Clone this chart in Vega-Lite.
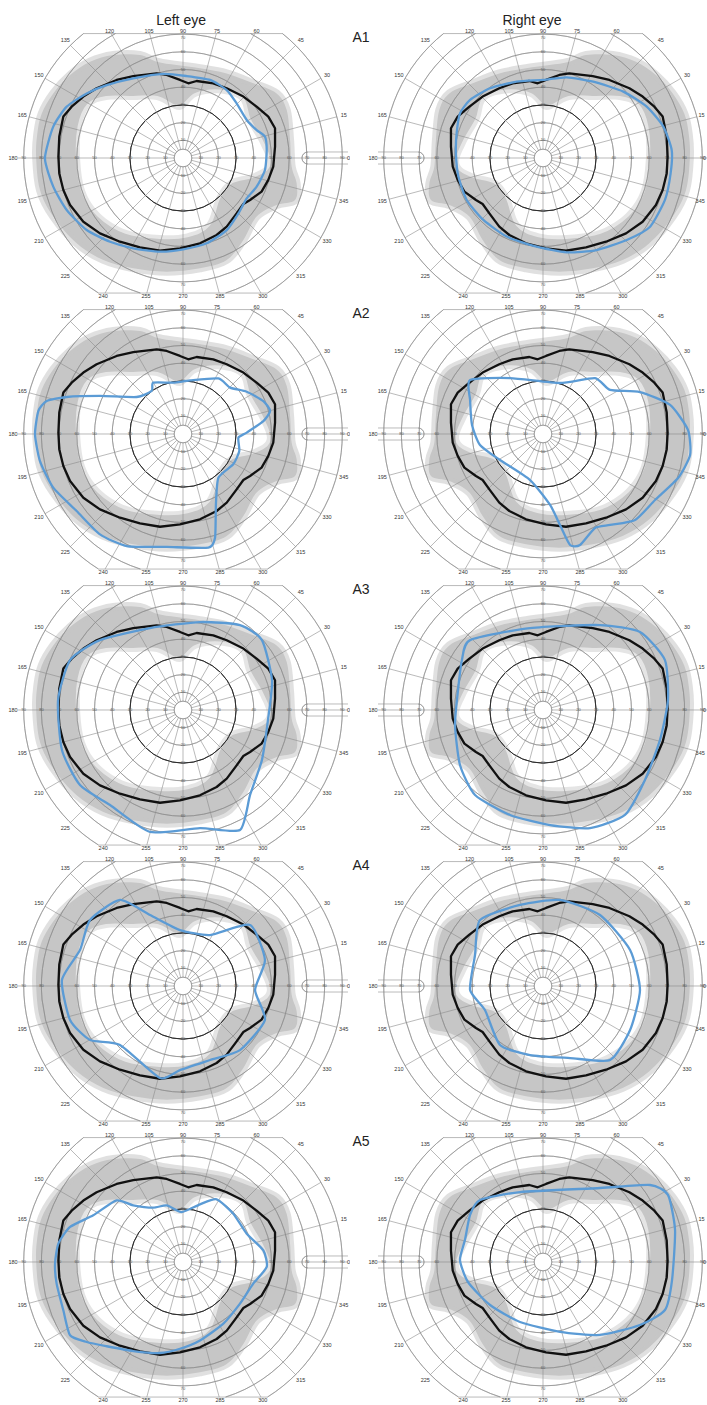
{
"$schema": "https://vega.github.io/schema/vega-lite/v6.json",
"padding": 0,
"background": "white",
"spacing": 0,
"config": {"view": {"stroke": null}, "concat": {"spacing": 0}},
"datasets": {
"circ": [
{"e":"B","x":0,"y":0,"r":5,"t1":0,"t2":360,"w":"n"},
{"e":"B","x":0,"y":0,"r":10,"t1":0,"t2":360,"w":"n"},
{"e":"B","x":0,"y":0,"r":20,"t1":0,"t2":360,"w":"n"},
{"e":"B","x":0,"y":0,"r":30,"t1":0,"t2":360,"w":"d"},
{"e":"B","x":0,"y":0,"r":40,"t1":0,"t2":360,"w":"n"},
{"e":"B","x":0,"y":0,"r":50,"t1":0,"t2":360,"w":"n"},
{"e":"B","x":0,"y":0,"r":60,"t1":0,"t2":360,"w":"n"},
{"e":"B","x":0,"y":0,"r":70,"t1":0,"t2":360,"w":"n"},
{"e":"B","x":0,"y":0,"r":80,"t1":28.5,"t2":162.5,"w":"n"},
{"e":"B","x":0,"y":0,"r":80,"t1":197.5,"t2":331.5,"w":"n"},
{"e":"B","x":0,"y":0,"r":90,"t1":38.6,"t2":148,"w":"n"},
{"e":"B","x":0,"y":0,"r":90,"t1":212,"t2":321.4,"w":"n"},
{"e":"L","x":70.6,"y":0,"r":3.4,"t1":180,"t2":360,"w":"n"},
{"e":"R","x":-70.6,"y":0,"r":3.4,"t1":0,"t2":180,"w":"n"}
],
"spk": [
{"e":"B","x":5,"y":0,"x2":93.2,"y2":0},
{"e":"B","x":4.83,"y":1.29,"x2":86.93,"y2":23.29},
{"e":"B","x":4.33,"y":2.5,"x2":77.94,"y2":45},
{"e":"B","x":3.54,"y":3.54,"x2":63.64,"y2":63.64},
{"e":"B","x":2.5,"y":4.33,"x2":40.59,"y2":70.3},
{"e":"B","x":1.29,"y":4.83,"x2":18.84,"y2":70.3},
{"e":"B","x":0,"y":5,"x2":0,"y2":70.3},
{"e":"B","x":-1.29,"y":4.83,"x2":-18.84,"y2":70.3},
{"e":"B","x":-2.5,"y":4.33,"x2":-40.59,"y2":70.3},
{"e":"B","x":-3.54,"y":3.54,"x2":-63.64,"y2":63.64},
{"e":"B","x":-4.33,"y":2.5,"x2":-77.94,"y2":45},
{"e":"B","x":-4.83,"y":1.29,"x2":-86.93,"y2":23.29},
{"e":"B","x":-5,"y":0,"x2":-93.2,"y2":0},
{"e":"B","x":-4.83,"y":-1.29,"x2":-86.93,"y2":-23.29},
{"e":"B","x":-4.33,"y":-2.5,"x2":-77.94,"y2":-45},
{"e":"B","x":-3.54,"y":-3.54,"x2":-63.64,"y2":-63.64},
{"e":"B","x":-2.5,"y":-4.33,"x2":-44.05,"y2":-76.3},
{"e":"B","x":-1.29,"y":-4.83,"x2":-20.44,"y2":-76.3},
{"e":"B","x":0,"y":-5,"x2":0,"y2":-76.3},
{"e":"B","x":1.29,"y":-4.83,"x2":20.44,"y2":-76.3},
{"e":"B","x":2.5,"y":-4.33,"x2":44.05,"y2":-76.3},
{"e":"B","x":3.54,"y":-3.54,"x2":63.64,"y2":-63.64},
{"e":"B","x":4.33,"y":-2.5,"x2":77.94,"y2":-45},
{"e":"B","x":4.83,"y":-1.29,"x2":86.93,"y2":-23.29},
{"e":"B","x":-56.2,"y":70.3,"x2":56.2,"y2":70.3},
{"e":"B","x":-47.7,"y":-76.3,"x2":47.7,"y2":-76.3},
{"e":"L","x":70.6,"y":3.4,"x2":93.2,"y2":3.4},
{"e":"L","x":70.6,"y":-3.4,"x2":93.2,"y2":-3.4},
{"e":"R","x":-93.2,"y":3.4,"x2":-70.6,"y2":3.4},
{"e":"R","x":-93.2,"y":-3.4,"x2":-70.6,"y2":-3.4}
],
"tl": [
{"x":10,"y":0,"t":"10"},{"x":20,"y":0,"t":"20"},{"x":30,"y":0,"t":"30"},{"x":40,"y":0,"t":"40"},{"x":50,"y":0,"t":"50"},{"x":60,"y":0,"t":"60"},{"x":70,"y":0,"t":"70"},{"x":80,"y":0,"t":"80"},{"x":90,"y":0,"t":"90"},
{"x":-10,"y":0,"t":"10"},{"x":-20,"y":0,"t":"20"},{"x":-30,"y":0,"t":"30"},{"x":-40,"y":0,"t":"40"},{"x":-50,"y":0,"t":"50"},{"x":-60,"y":0,"t":"60"},{"x":-70,"y":0,"t":"70"},{"x":-80,"y":0,"t":"80"},{"x":-90,"y":0,"t":"90"},
{"x":0,"y":10,"t":"10"},{"x":0,"y":20,"t":"20"},{"x":0,"y":30,"t":"30"},{"x":0,"y":40,"t":"40"},{"x":0,"y":50,"t":"50"},{"x":0,"y":60,"t":"60"},{"x":0,"y":68,"t":"70"},
{"x":0,"y":-10,"t":"10"},{"x":0,"y":-20,"t":"20"},{"x":0,"y":-30,"t":"30"},{"x":0,"y":-40,"t":"40"},{"x":0,"y":-50,"t":"50"},{"x":0,"y":-60,"t":"60"},{"x":0,"y":-72,"t":"70"}
],
"al": [
{"e":"L","x":93.5,"y":0,"t":"0"},{"e":"L","x":90.8,"y":24.3,"t":"15"},{"e":"L","x":90.8,"y":-24.3,"t":"345"},
{"e":"R","x":91.2,"y":0,"t":"0"},{"e":"R","x":89.6,"y":24.3,"t":"15"},{"e":"R","x":88.8,"y":-24.3,"t":"345"},
{"e":"B","x":81.4,"y":47,"t":"30"},{"e":"B","x":66.5,"y":66.5,"t":"45"},
{"e":"B","x":41.5,"y":71.8,"t":"60"},{"e":"B","x":19.2,"y":71.8,"t":"75"},{"e":"B","x":0,"y":71.8,"t":"90"},{"e":"B","x":-19.2,"y":71.8,"t":"105"},{"e":"B","x":-41.5,"y":71.8,"t":"120"},
{"e":"B","x":-66.5,"y":66.5,"t":"135"},{"e":"B","x":-81.4,"y":47,"t":"150"},{"e":"B","x":-90.8,"y":24.3,"t":"165"},{"e":"B","x":-96,"y":0,"t":"180"},
{"e":"B","x":-90.8,"y":-24.3,"t":"195"},{"e":"B","x":-81.4,"y":-47,"t":"210"},{"e":"B","x":-66.5,"y":-66.5,"t":"225"},
{"e":"B","x":-45.1,"y":-78.2,"t":"240"},{"e":"B","x":-20.9,"y":-78.2,"t":"255"},{"e":"B","x":0,"y":-78.2,"t":"270"},{"e":"B","x":20.9,"y":-78.2,"t":"285"},{"e":"B","x":45.1,"y":-78.2,"t":"300"},
{"e":"B","x":66.5,"y":-66.5,"t":"315"},{"e":"B","x":81.4,"y":-47,"t":"330"}
],
"band": [
{"e":"L","k":"o","i":1,"x":-83.0,"y":0.8},{"e":"L","k":"o","i":2,"x":-82.3,"y":13.9},{"e":"L","k":"o","i":3,"x":-79.8,"y":25.2},{"e":"L","k":"o","i":4,"x":-73.3,"y":36.5},{"e":"L","k":"o","i":5,"x":-63.8,"y":46.9},{"e":"L","k":"o","i":6,"x":-52.5,"y":54.4},{"e":"L","k":"o","i":7,"x":-39.4,"y":58.2},{"e":"L","k":"o","i":8,"x":-24.3,"y":58.2},{"e":"L","k":"o","i":9,"x":-14.9,"y":54.4},{"e":"L","k":"o","i":10,"x":-3.6,"y":52.5},{"e":"L","k":"o","i":11,"x":9.6,"y":50.7},{"e":"L","k":"o","i":12,"x":24.7,"y":47.8},{"e":"L","k":"o","i":13,"x":39.7,"y":42.2},{"e":"L","k":"o","i":14,"x":52.9,"y":36.5},{"e":"L","k":"o","i":15,"x":58.6,"y":27.1},{"e":"L","k":"o","i":16,"x":60.5,"y":10.2},{"e":"L","k":"o","i":17,"x":61.4,"y":-4.9},{"e":"L","k":"o","i":18,"x":64.2,"y":-14.3},{"e":"L","k":"o","i":19,"x":63.3,"y":-23.7},{"e":"L","k":"o","i":20,"x":52.9,"y":-26.6},{"e":"L","k":"o","i":21,"x":41.6,"y":-33.1},{"e":"L","k":"o","i":22,"x":34.1,"y":-46.3},{"e":"L","k":"o","i":23,"x":24.7,"y":-57.6},{"e":"L","k":"o","i":24,"x":9.6,"y":-62.3},{"e":"L","k":"o","i":25,"x":-9.2,"y":-64.2},{"e":"L","k":"o","i":26,"x":-28.1,"y":-62.3},{"e":"L","k":"o","i":27,"x":-45.0,"y":-57.6},{"e":"L","k":"o","i":28,"x":-60.1,"y":-48.2},{"e":"L","k":"o","i":29,"x":-73.3,"y":-33.1},{"e":"L","k":"o","i":30,"x":-80.8,"y":-18.1},
{"e":"L","k":"n","i":1,"x":-58.2,"y":0.8},{"e":"L","k":"n","i":2,"x":-57.3,"y":17.7},{"e":"L","k":"n","i":3,"x":-52.5,"y":29.0},{"e":"L","k":"n","i":4,"x":-43.1,"y":32.8},{"e":"L","k":"n","i":5,"x":-28.1,"y":32.8},{"e":"L","k":"n","i":6,"x":-14.9,"y":32.8},{"e":"L","k":"n","i":7,"x":-1.7,"y":27.1},{"e":"L","k":"n","i":8,"x":7.7,"y":34.7},{"e":"L","k":"n","i":9,"x":20.9,"y":36.5},{"e":"L","k":"n","i":10,"x":32.2,"y":32.8},{"e":"L","k":"n","i":11,"x":36.0,"y":21.5},{"e":"L","k":"n","i":12,"x":43.5,"y":8.3},{"e":"L","k":"n","i":13,"x":47.3,"y":-3.0},{"e":"L","k":"n","i":14,"x":39.7,"y":-8.7},{"e":"L","k":"n","i":15,"x":26.6,"y":-12.4},{"e":"L","k":"n","i":16,"x":19.0,"y":-21.8},{"e":"L","k":"n","i":17,"x":13.4,"y":-36.9},{"e":"L","k":"n","i":18,"x":2.1,"y":-42.6},{"e":"L","k":"n","i":19,"x":-13.0,"y":-43.5},{"e":"L","k":"n","i":20,"x":-31.8,"y":-40.7},{"e":"L","k":"n","i":21,"x":-46.9,"y":-31.3},{"e":"L","k":"n","i":22,"x":-55.4,"y":-18.1},
{"e":"R","k":"o","i":1,"x":83.0,"y":0.8},{"e":"R","k":"o","i":2,"x":82.3,"y":13.9},{"e":"R","k":"o","i":3,"x":79.8,"y":25.2},{"e":"R","k":"o","i":4,"x":73.3,"y":36.5},{"e":"R","k":"o","i":5,"x":63.8,"y":46.9},{"e":"R","k":"o","i":6,"x":52.5,"y":54.4},{"e":"R","k":"o","i":7,"x":39.4,"y":58.2},{"e":"R","k":"o","i":8,"x":24.3,"y":58.2},{"e":"R","k":"o","i":9,"x":14.9,"y":54.4},{"e":"R","k":"o","i":10,"x":3.6,"y":52.5},{"e":"R","k":"o","i":11,"x":-9.6,"y":50.7},{"e":"R","k":"o","i":12,"x":-24.7,"y":47.8},{"e":"R","k":"o","i":13,"x":-39.7,"y":42.2},{"e":"R","k":"o","i":14,"x":-52.9,"y":36.5},{"e":"R","k":"o","i":15,"x":-58.6,"y":27.1},{"e":"R","k":"o","i":16,"x":-60.5,"y":10.2},{"e":"R","k":"o","i":17,"x":-61.4,"y":-4.9},{"e":"R","k":"o","i":18,"x":-64.2,"y":-14.3},{"e":"R","k":"o","i":19,"x":-63.3,"y":-23.7},{"e":"R","k":"o","i":20,"x":-52.9,"y":-26.6},{"e":"R","k":"o","i":21,"x":-41.6,"y":-33.1},{"e":"R","k":"o","i":22,"x":-34.1,"y":-46.3},{"e":"R","k":"o","i":23,"x":-24.7,"y":-57.6},{"e":"R","k":"o","i":24,"x":-9.6,"y":-62.3},{"e":"R","k":"o","i":25,"x":9.2,"y":-64.2},{"e":"R","k":"o","i":26,"x":28.1,"y":-62.3},{"e":"R","k":"o","i":27,"x":45.0,"y":-57.6},{"e":"R","k":"o","i":28,"x":60.1,"y":-48.2},{"e":"R","k":"o","i":29,"x":73.3,"y":-33.1},{"e":"R","k":"o","i":30,"x":80.8,"y":-18.1},
{"e":"R","k":"n","i":1,"x":58.2,"y":0.8},{"e":"R","k":"n","i":2,"x":57.3,"y":17.7},{"e":"R","k":"n","i":3,"x":52.5,"y":29.0},{"e":"R","k":"n","i":4,"x":43.1,"y":32.8},{"e":"R","k":"n","i":5,"x":28.1,"y":32.8},{"e":"R","k":"n","i":6,"x":14.9,"y":32.8},{"e":"R","k":"n","i":7,"x":1.7,"y":27.1},{"e":"R","k":"n","i":8,"x":-7.7,"y":34.7},{"e":"R","k":"n","i":9,"x":-20.9,"y":36.5},{"e":"R","k":"n","i":10,"x":-32.2,"y":32.8},{"e":"R","k":"n","i":11,"x":-36.0,"y":21.5},{"e":"R","k":"n","i":12,"x":-43.5,"y":8.3},{"e":"R","k":"n","i":13,"x":-47.3,"y":-3.0},{"e":"R","k":"n","i":14,"x":-39.7,"y":-8.7},{"e":"R","k":"n","i":15,"x":-26.6,"y":-12.4},{"e":"R","k":"n","i":16,"x":-19.0,"y":-21.8},{"e":"R","k":"n","i":17,"x":-13.4,"y":-36.9},{"e":"R","k":"n","i":18,"x":-2.1,"y":-42.6},{"e":"R","k":"n","i":19,"x":13.0,"y":-43.5},{"e":"R","k":"n","i":20,"x":31.8,"y":-40.7},{"e":"R","k":"n","i":21,"x":46.9,"y":-31.3},{"e":"R","k":"n","i":22,"x":55.4,"y":-18.1}
],
"norm": [
{"e":"L","i":1,"x":-70.4,"y":0.8},{"e":"L","i":2,"x":-69.9,"y":12.1},{"e":"L","i":3,"x":-67.6,"y":23.4},{"e":"L","i":4,"x":-62.9,"y":29.0},{"e":"L","i":5,"x":-56.3,"y":34.7},{"e":"L","i":6,"x":-48.8,"y":39.4},{"e":"L","i":7,"x":-37.5,"y":44.1},{"e":"L","i":8,"x":-28.1,"y":46.3},{"e":"L","i":9,"x":-14.9,"y":47.8},{"e":"L","i":10,"x":-9.2,"y":46.9},{"e":"L","i":11,"x":-1.7,"y":44.1},{"e":"L","i":12,"x":3.0,"y":42.2},{"e":"L","i":13,"x":7.7,"y":43.5},{"e":"L","i":14,"x":17.1,"y":42.2},{"e":"L","i":15,"x":24.7,"y":39.4},{"e":"L","i":16,"x":34.1,"y":34.7},{"e":"L","i":17,"x":41.6,"y":29.0},{"e":"L","i":18,"x":48.2,"y":23.4},{"e":"L","i":19,"x":52.0,"y":16.8},{"e":"L","i":20,"x":52.0,"y":6.4},{"e":"L","i":21,"x":51.0,"y":-4.9},{"e":"L","i":22,"x":48.2,"y":-12.4},{"e":"L","i":23,"x":44.4,"y":-19.0},{"e":"L","i":24,"x":37.9,"y":-23.7},{"e":"L","i":25,"x":34.1,"y":-26.0},{"e":"L","i":26,"x":30.3,"y":-31.3},{"e":"L","i":27,"x":24.7,"y":-38.8},{"e":"L","i":28,"x":19.0,"y":-43.5},{"e":"L","i":29,"x":9.6,"y":-48.2},{"e":"L","i":30,"x":-1.7,"y":-51.0},{"e":"L","i":31,"x":-13.0,"y":-52.4},{"e":"L","i":32,"x":-24.3,"y":-50.5},{"e":"L","i":33,"x":-35.6,"y":-47.3},{"e":"L","i":34,"x":-46.9,"y":-42.6},{"e":"L","i":35,"x":-56.3,"y":-36.0},{"e":"L","i":36,"x":-63.8,"y":-26.6},{"e":"L","i":37,"x":-67.6,"y":-18.1},{"e":"L","i":38,"x":-69.9,"y":-8.7},
{"e":"R","i":1,"x":70.4,"y":0.8},{"e":"R","i":2,"x":69.9,"y":12.1},{"e":"R","i":3,"x":67.6,"y":23.4},{"e":"R","i":4,"x":62.9,"y":29.0},{"e":"R","i":5,"x":56.3,"y":34.7},{"e":"R","i":6,"x":48.8,"y":39.4},{"e":"R","i":7,"x":37.5,"y":44.1},{"e":"R","i":8,"x":28.1,"y":46.3},{"e":"R","i":9,"x":14.9,"y":47.8},{"e":"R","i":10,"x":9.2,"y":46.9},{"e":"R","i":11,"x":1.7,"y":44.1},{"e":"R","i":12,"x":-3.0,"y":42.2},{"e":"R","i":13,"x":-7.7,"y":43.5},{"e":"R","i":14,"x":-17.1,"y":42.2},{"e":"R","i":15,"x":-24.7,"y":39.4},{"e":"R","i":16,"x":-34.1,"y":34.7},{"e":"R","i":17,"x":-41.6,"y":29.0},{"e":"R","i":18,"x":-48.2,"y":23.4},{"e":"R","i":19,"x":-52.0,"y":16.8},{"e":"R","i":20,"x":-52.0,"y":6.4},{"e":"R","i":21,"x":-51.0,"y":-4.9},{"e":"R","i":22,"x":-48.2,"y":-12.4},{"e":"R","i":23,"x":-44.4,"y":-19.0},{"e":"R","i":24,"x":-37.9,"y":-23.7},{"e":"R","i":25,"x":-34.1,"y":-26.0},{"e":"R","i":26,"x":-30.3,"y":-31.3},{"e":"R","i":27,"x":-24.7,"y":-38.8},{"e":"R","i":28,"x":-19.0,"y":-43.5},{"e":"R","i":29,"x":-9.6,"y":-48.2},{"e":"R","i":30,"x":1.7,"y":-51.0},{"e":"R","i":31,"x":13.0,"y":-52.4},{"e":"R","i":32,"x":24.3,"y":-50.5},{"e":"R","i":33,"x":35.6,"y":-47.3},{"e":"R","i":34,"x":46.9,"y":-42.6},{"e":"R","i":35,"x":56.3,"y":-36.0},{"e":"R","i":36,"x":63.8,"y":-26.6},{"e":"R","i":37,"x":67.6,"y":-18.1},{"e":"R","i":38,"x":69.9,"y":-8.7}
],
"pt": [
{"p":"A1L","i":1,"x":-78.0,"y":-0.2},{"p":"A1L","i":2,"x":-73.3,"y":17.7},{"p":"A1L","i":3,"x":-65.7,"y":29.0},{"p":"A1L","i":4,"x":-54.4,"y":36.5},{"p":"A1L","i":5,"x":-43.1,"y":41.2},{"p":"A1L","i":6,"x":-28.1,"y":45.0},{"p":"A1L","i":7,"x":-11.1,"y":47.5},{"p":"A1L","i":8,"x":2.1,"y":46.3},{"p":"A1L","i":9,"x":15.3,"y":44.1},{"p":"A1L","i":10,"x":24.7,"y":38.4},{"p":"A1L","i":11,"x":30.3,"y":30.9},{"p":"A1L","i":12,"x":36.0,"y":21.5},{"p":"A1L","i":13,"x":41.6,"y":15.8},{"p":"A1L","i":14,"x":46.3,"y":12.1},{"p":"A1L","i":15,"x":47.3,"y":4.5},{"p":"A1L","i":16,"x":46.3,"y":-6.8},{"p":"A1L","i":17,"x":41.6,"y":-16.2},{"p":"A1L","i":18,"x":36.0,"y":-22.8},{"p":"A1L","i":19,"x":31.3,"y":-31.3},{"p":"A1L","i":20,"x":24.7,"y":-40.7},{"p":"A1L","i":21,"x":13.4,"y":-48.2},{"p":"A1L","i":22,"x":0.2,"y":-51.6},{"p":"A1L","i":23,"x":-13.0,"y":-52.9},{"p":"A1L","i":24,"x":-28.1,"y":-51.0},{"p":"A1L","i":25,"x":-41.2,"y":-47.3},{"p":"A1L","i":26,"x":-54.4,"y":-40.7},{"p":"A1L","i":27,"x":-65.7,"y":-29.4},{"p":"A1L","i":28,"x":-73.3,"y":-16.2},
{"p":"A1R","i":1,"x":-49.2,"y":2.6},{"p":"A1R","i":2,"x":-48.8,"y":13.9},{"p":"A1R","i":3,"x":-46.9,"y":25.2},{"p":"A1R","i":4,"x":-41.2,"y":32.8},{"p":"A1R","i":5,"x":-29.9,"y":39.4},{"p":"A1R","i":6,"x":-14.9,"y":43.1},{"p":"A1R","i":7,"x":0.2,"y":44.1},{"p":"A1R","i":8,"x":13.4,"y":45.6},{"p":"A1R","i":9,"x":28.4,"y":43.1},{"p":"A1R","i":10,"x":45.4,"y":37.5},{"p":"A1R","i":11,"x":58.6,"y":29.0},{"p":"A1R","i":12,"x":68.0,"y":17.7},{"p":"A1R","i":13,"x":72.7,"y":4.5},{"p":"A1R","i":14,"x":72.1,"y":-8.7},{"p":"A1R","i":15,"x":68.9,"y":-23.7},{"p":"A1R","i":16,"x":60.5,"y":-38.8},{"p":"A1R","i":17,"x":47.3,"y":-46.3},{"p":"A1R","i":18,"x":30.3,"y":-52.0},{"p":"A1R","i":19,"x":13.4,"y":-53.3},{"p":"A1R","i":20,"x":-3.6,"y":-50.1},{"p":"A1R","i":21,"x":-20.5,"y":-44.4},{"p":"A1R","i":22,"x":-33.7,"y":-35.0},{"p":"A1R","i":23,"x":-43.1,"y":-23.7},{"p":"A1R","i":24,"x":-47.8,"y":-10.5},
{"p":"A2L","i":1,"x":-83.6,"y":-0.2},{"p":"A2L","i":2,"x":-81.7,"y":13.0},{"p":"A2L","i":3,"x":-77.0,"y":18.6},{"p":"A2L","i":4,"x":-65.7,"y":20.9},{"p":"A2L","i":5,"x":-46.9,"y":21.5},{"p":"A2L","i":6,"x":-26.2,"y":20.9},{"p":"A2L","i":7,"x":-17.7,"y":24.3},{"p":"A2L","i":8,"x":-16.8,"y":29.0},{"p":"A2L","i":9,"x":-5.5,"y":29.0},{"p":"A2L","i":10,"x":4.0,"y":30.3},{"p":"A2L","i":11,"x":20.0,"y":31.4},{"p":"A2L","i":12,"x":26.6,"y":26.2},{"p":"A2L","i":13,"x":36.0,"y":23.9},{"p":"A2L","i":14,"x":45.4,"y":18.6},{"p":"A2L","i":15,"x":49.2,"y":13.0},{"p":"A2L","i":16,"x":45.4,"y":7.3},{"p":"A2L","i":17,"x":36.0,"y":0.8},{"p":"A2L","i":18,"x":31.3,"y":-2.1},{"p":"A2L","i":19,"x":31.8,"y":-9.6},{"p":"A2L","i":20,"x":28.4,"y":-17.1},{"p":"A2L","i":21,"x":20.0,"y":-24.7},{"p":"A2L","i":22,"x":18.6,"y":-39.7},{"p":"A2L","i":23,"x":18.1,"y":-58.6},{"p":"A2L","i":24,"x":14.3,"y":-64.2},{"p":"A2L","i":25,"x":-9.2,"y":-63.8},{"p":"A2L","i":26,"x":-31.8,"y":-63.3},{"p":"A2L","i":27,"x":-46.9,"y":-56.7},{"p":"A2L","i":28,"x":-60.1,"y":-43.5},{"p":"A2L","i":29,"x":-73.3,"y":-30.3},{"p":"A2L","i":30,"x":-80.8,"y":-15.3},
{"p":"A2R","i":1,"x":-41.2,"y":30.5},{"p":"A2R","i":2,"x":-18.6,"y":31.6},{"p":"A2R","i":3,"x":9.6,"y":28.8},{"p":"A2R","i":4,"x":29.4,"y":31.6},{"p":"A2R","i":5,"x":37.9,"y":24.9},{"p":"A2R","i":6,"x":54.8,"y":23.7},{"p":"A2R","i":7,"x":71.8,"y":16.4},{"p":"A2R","i":8,"x":81.9,"y":2.3},{"p":"A2R","i":9,"x":83.1,"y":-11.9},{"p":"A2R","i":10,"x":76.3,"y":-24.9},{"p":"A2R","i":11,"x":63.3,"y":-37.3},{"p":"A2R","i":12,"x":52.0,"y":-48.6},{"p":"A2R","i":13,"x":37.9,"y":-51.4},{"p":"A2R","i":14,"x":29.4,"y":-53.1},{"p":"A2R","i":15,"x":20.9,"y":-62.7},{"p":"A2R","i":16,"x":15.3,"y":-62.7},{"p":"A2R","i":17,"x":9.6,"y":-51.4},{"p":"A2R","i":18,"x":4.0,"y":-40.1},{"p":"A2R","i":19,"x":-7.3,"y":-26.0},{"p":"A2R","i":20,"x":-24.3,"y":-14.7},{"p":"A2R","i":21,"x":-35.6,"y":-6.2},{"p":"A2R","i":22,"x":-40.1,"y":5.1},{"p":"A2R","i":23,"x":-41.2,"y":19.2},
{"p":"A3L","i":1,"x":-70.6,"y":5.6},{"p":"A3L","i":2,"x":-63.8,"y":28.2},{"p":"A3L","i":3,"x":-46.9,"y":39.5},{"p":"A3L","i":4,"x":-18.6,"y":46.3},{"p":"A3L","i":5,"x":9.6,"y":49.7},{"p":"A3L","i":6,"x":32.2,"y":48.0},{"p":"A3L","i":7,"x":44.6,"y":39.5},{"p":"A3L","i":8,"x":50.3,"y":16.9},{"p":"A3L","i":9,"x":48.0,"y":-5.6},{"p":"A3L","i":10,"x":44.6,"y":-28.2},{"p":"A3L","i":11,"x":37.9,"y":-48.0},{"p":"A3L","i":12,"x":32.2,"y":-67.8},{"p":"A3L","i":13,"x":9.6,"y":-66.7},{"p":"A3L","i":14,"x":-18.6,"y":-68.9},{"p":"A3L","i":15,"x":-41.2,"y":-53.7},{"p":"A3L","i":16,"x":-58.2,"y":-42.4},{"p":"A3L","i":17,"x":-68.4,"y":-22.6},
{"p":"A3R","i":1,"x":-41.2,"y":39.5},{"p":"A3R","i":2,"x":-7.3,"y":46.3},{"p":"A3R","i":3,"x":32.2,"y":48.0},{"p":"A3R","i":4,"x":54.8,"y":44.1},{"p":"A3R","i":5,"x":68.9,"y":28.2},{"p":"A3R","i":6,"x":70.6,"y":5.6},{"p":"A3R","i":7,"x":66.1,"y":-16.9},{"p":"A3R","i":8,"x":57.6,"y":-39.5},{"p":"A3R","i":9,"x":46.3,"y":-59.3},{"p":"A3R","i":10,"x":26.6,"y":-66.7},{"p":"A3R","i":11,"x":4.0,"y":-65.0},{"p":"A3R","i":12,"x":-18.6,"y":-59.3},{"p":"A3R","i":13,"x":-38.4,"y":-48.0},{"p":"A3R","i":14,"x":-46.9,"y":-31.1},{"p":"A3R","i":15,"x":-49.7,"y":-8.5},{"p":"A3R","i":16,"x":-48.0,"y":11.3},{"p":"A3R","i":17,"x":-45.8,"y":28.2},
{"p":"A4L","i":1,"x":-52.5,"y":37.3},{"p":"A4L","i":2,"x":-35.6,"y":48.6},{"p":"A4L","i":3,"x":-18.6,"y":40.1},{"p":"A4L","i":4,"x":-1.7,"y":31.6},{"p":"A4L","i":5,"x":15.3,"y":28.8},{"p":"A4L","i":6,"x":37.9,"y":34.5},{"p":"A4L","i":7,"x":46.3,"y":14.7},{"p":"A4L","i":8,"x":40.7,"y":-2.3},{"p":"A4L","i":9,"x":46.3,"y":-19.2},{"p":"A4L","i":10,"x":32.2,"y":-36.2},{"p":"A4L","i":11,"x":15.3,"y":-41.8},{"p":"A4L","i":12,"x":-1.7,"y":-47.5},{"p":"A4L","i":13,"x":-13.0,"y":-52.0},{"p":"A4L","i":14,"x":-35.6,"y":-33.3},{"p":"A4L","i":15,"x":-52.5,"y":-30.5},{"p":"A4L","i":16,"x":-63.8,"y":-19.2},{"p":"A4L","i":17,"x":-68.4,"y":3.4},{"p":"A4L","i":18,"x":-58.2,"y":20.3},
{"p":"A4R","i":1,"x":-35.6,"y":37.3},{"p":"A4R","i":2,"x":-13.0,"y":45.8},{"p":"A4R","i":3,"x":9.6,"y":48.6},{"p":"A4R","i":4,"x":32.2,"y":40.1},{"p":"A4R","i":5,"x":49.2,"y":20.3},{"p":"A4R","i":6,"x":54.8,"y":-2.3},{"p":"A4R","i":7,"x":49.2,"y":-24.9},{"p":"A4R","i":8,"x":37.9,"y":-41.8},{"p":"A4R","i":9,"x":15.3,"y":-40.7},{"p":"A4R","i":10,"x":-7.3,"y":-39.0},{"p":"A4R","i":11,"x":-24.3,"y":-33.3},{"p":"A4R","i":12,"x":-32.8,"y":-13.6},{"p":"A4R","i":13,"x":-41.2,"y":-2.3},{"p":"A4R","i":14,"x":-38.4,"y":17.5},
{"p":"A5L","i":1,"x":-72.3,"y":-0.9},{"p":"A5L","i":2,"x":-70.4,"y":10.4},{"p":"A5L","i":3,"x":-63.8,"y":19.8},{"p":"A5L","i":4,"x":-50.7,"y":26.4},{"p":"A5L","i":5,"x":-37.5,"y":34.8},{"p":"A5L","i":6,"x":-28.1,"y":32.0},{"p":"A5L","i":7,"x":-16.8,"y":30.7},{"p":"A5L","i":8,"x":-9.2,"y":32.0},{"p":"A5L","i":9,"x":-0.8,"y":28.2},{"p":"A5L","i":10,"x":9.6,"y":32.6},{"p":"A5L","i":11,"x":19.0,"y":35.4},{"p":"A5L","i":12,"x":28.4,"y":27.3},{"p":"A5L","i":13,"x":36.0,"y":16.0},{"p":"A5L","i":14,"x":45.4,"y":6.6},{"p":"A5L","i":15,"x":47.3,"y":-2.8},{"p":"A5L","i":16,"x":39.7,"y":-12.2},{"p":"A5L","i":17,"x":32.2,"y":-23.5},{"p":"A5L","i":18,"x":22.8,"y":-34.8},{"p":"A5L","i":19,"x":9.6,"y":-44.3},{"p":"A5L","i":20,"x":-1.7,"y":-49.0},{"p":"A5L","i":21,"x":-13.0,"y":-51.4},{"p":"A5L","i":22,"x":-28.1,"y":-50.3},{"p":"A5L","i":23,"x":-43.1,"y":-47.6},{"p":"A5L","i":24,"x":-54.4,"y":-45.2},{"p":"A5L","i":25,"x":-63.8,"y":-41.4},{"p":"A5L","i":26,"x":-67.6,"y":-27.3},{"p":"A5L","i":27,"x":-71.4,"y":-12.2},
{"p":"A5R","i":1,"x":-41.2,"y":26.6},{"p":"A5R","i":2,"x":-35.6,"y":35.0},{"p":"A5R","i":3,"x":-13.0,"y":39.5},{"p":"A5R","i":4,"x":32.2,"y":41.8},{"p":"A5R","i":5,"x":60.5,"y":43.5},{"p":"A5R","i":6,"x":70.6,"y":37.9},{"p":"A5R","i":7,"x":74.6,"y":18.1},{"p":"A5R","i":8,"x":72.9,"y":-10.2},{"p":"A5R","i":9,"x":68.9,"y":-27.1},{"p":"A5R","i":10,"x":54.8,"y":-35.6},{"p":"A5R","i":11,"x":32.2,"y":-41.2},{"p":"A5R","i":12,"x":9.6,"y":-39.5},{"p":"A5R","i":13,"x":-13.0,"y":-33.9},{"p":"A5R","i":14,"x":-29.9,"y":-24.3},{"p":"A5R","i":15,"x":-42.4,"y":-11.3},{"p":"A5R","i":16,"x":-46.9,"y":1.1},{"p":"A5R","i":17,"x":-44.1,"y":12.4}
],
"tt": [
{"p":"A1L","x":-1.1,"y":77.4,"t":"Left eye"},
{"p":"A1R","x":-6.2,"y":77.4,"t":"Right eye"},
{"p":"A1R","x":-102.8,"y":68,"t":"A1"},
{"p":"A2R","x":-102.8,"y":68,"t":"A2"},
{"p":"A3R","x":-102.8,"y":68,"t":"A3"},
{"p":"A4R","x":-102.8,"y":68,"t":"A4"},
{"p":"A5R","x":-102.8,"y":68,"t":"A5"}
]
},
"vconcat": [
{"spacing": 0, "hconcat": [
{"width": 350, "height": 300,
"encoding": {"x": {"field": "x", "type": "quantitative", "scale": {"domain": [-103.39, 94.35], "nice": false, "zero": false}, "axis": null}, "y": {"field": "y", "type": "quantitative", "scale": {"domain": [-80.226, 89.266], "nice": false, "zero": false}, "axis": null}},
"layer": [
{"data": {"name": "band"}, "transform": [{"filter": "datum.e=='L' && datum.k=='o'"}], "mark": {"type": "line", "interpolate": "cardinal-closed", "fill": "#c6c6c6", "stroke": "#c6c6c6", "strokeWidth": 8, "strokeOpacity": 0.55, "strokeJoin": "round"}, "encoding": {"order": {"field": "i", "type": "quantitative"}}},
{"data": {"name": "band"}, "transform": [{"filter": "datum.e=='L' && datum.k=='n'"}], "mark": {"type": "line", "interpolate": "cardinal-closed", "fill": "#ffffff", "stroke": "#ffffff", "strokeWidth": 8, "strokeOpacity": 0.55, "strokeJoin": "round"}, "encoding": {"order": {"field": "i", "type": "quantitative"}}},
{"data": {"name": "circ"}, "transform": [{"filter": "datum.e=='B' || datum.e=='L'"}], "mark": {"type": "arc", "filled": false}, "encoding": {"theta": {"field": "t1", "type": "quantitative", "stack": null, "scale": {"domain": [0, 360], "range": [0, 6.283185307179586]}}, "theta2": {"field": "t2"}, "radius": {"field": "r", "type": "quantitative", "scale": {"type": "linear", "domain": [0, 90], "range": [0, 159.3], "zero": true, "nice": false}}, "radius2": {"field": "r"}, "stroke": {"condition": {"test": "datum.w=='d'", "value": "#2a2a2a"}, "value": "#8c8c8c"}, "strokeWidth": {"condition": {"test": "datum.w=='d'", "value": 0.9}, "value": 0.6}}},
{"data": {"name": "spk"}, "transform": [{"filter": "datum.e=='B' || datum.e=='L'"}], "mark": {"type": "rule", "stroke": "#8c8c8c", "strokeWidth": 0.6}, "encoding": {"x2": {"field": "x2"}, "y2": {"field": "y2"}}},
{"data": {"name": "tl"}, "mark": {"type": "text", "fontSize": 4, "fill": "#555555", "font": "Liberation Sans", "clip": true}, "encoding": {"text": {"field": "t"}}},
{"data": {"name": "al"}, "transform": [{"filter": "datum.e=='B' || datum.e=='L'"}], "mark": {"type": "text", "fontSize": 5.5, "fill": "#333333", "font": "Liberation Sans", "clip": true}, "encoding": {"text": {"field": "t"}}},
{"data": {"name": "norm"}, "transform": [{"filter": "datum.e=='L'"}], "mark": {"type": "line", "interpolate": "linear-closed", "stroke": "#111111", "strokeWidth": 2.3, "strokeJoin": "round"}, "encoding": {"order": {"field": "i", "type": "quantitative"}}},
{"data": {"name": "pt"}, "transform": [{"filter": "datum.p=='A1L'"}], "mark": {"type": "line", "interpolate": "cardinal-closed", "tension": 0.4, "stroke": "#5b9bd5", "strokeWidth": 2.3, "strokeJoin": "round"}, "encoding": {"order": {"field": "i", "type": "quantitative"}}},
{"data": {"name": "tt"}, "transform": [{"filter": "datum.p=='A1L'"}], "mark": {"type": "text", "fontSize": 14, "fill": "#222222", "font": "Liberation Sans", "clip": true}, "encoding": {"text": {"field": "t"}}}
]},
{"width": 357, "height": 300,
"encoding": {"x": {"field": "x", "type": "quantitative", "scale": {"domain": [-109.04, 92.655], "nice": false, "zero": false}, "axis": null}, "y": {"field": "y", "type": "quantitative", "scale": {"domain": [-80.226, 89.266], "nice": false, "zero": false}, "axis": null}},
"layer": [
{"data": {"name": "band"}, "transform": [{"filter": "datum.e=='R' && datum.k=='o'"}], "mark": {"type": "line", "interpolate": "cardinal-closed", "fill": "#c6c6c6", "stroke": "#c6c6c6", "strokeWidth": 8, "strokeOpacity": 0.55, "strokeJoin": "round"}, "encoding": {"order": {"field": "i", "type": "quantitative"}}},
{"data": {"name": "band"}, "transform": [{"filter": "datum.e=='R' && datum.k=='n'"}], "mark": {"type": "line", "interpolate": "cardinal-closed", "fill": "#ffffff", "stroke": "#ffffff", "strokeWidth": 8, "strokeOpacity": 0.55, "strokeJoin": "round"}, "encoding": {"order": {"field": "i", "type": "quantitative"}}},
{"data": {"name": "circ"}, "transform": [{"filter": "datum.e=='B' || datum.e=='R'"}], "mark": {"type": "arc", "filled": false}, "encoding": {"theta": {"field": "t1", "type": "quantitative", "stack": null, "scale": {"domain": [0, 360], "range": [0, 6.283185307179586]}}, "theta2": {"field": "t2"}, "radius": {"field": "r", "type": "quantitative", "scale": {"type": "linear", "domain": [0, 90], "range": [0, 159.3], "zero": true, "nice": false}}, "radius2": {"field": "r"}, "stroke": {"condition": {"test": "datum.w=='d'", "value": "#2a2a2a"}, "value": "#8c8c8c"}, "strokeWidth": {"condition": {"test": "datum.w=='d'", "value": 0.9}, "value": 0.6}}},
{"data": {"name": "spk"}, "transform": [{"filter": "datum.e=='B' || datum.e=='R'"}], "mark": {"type": "rule", "stroke": "#8c8c8c", "strokeWidth": 0.6}, "encoding": {"x2": {"field": "x2"}, "y2": {"field": "y2"}}},
{"data": {"name": "tl"}, "mark": {"type": "text", "fontSize": 4, "fill": "#555555", "font": "Liberation Sans", "clip": true}, "encoding": {"text": {"field": "t"}}},
{"data": {"name": "al"}, "transform": [{"filter": "datum.e=='B' || datum.e=='R'"}], "mark": {"type": "text", "fontSize": 5.5, "fill": "#333333", "font": "Liberation Sans", "clip": true}, "encoding": {"text": {"field": "t"}}},
{"data": {"name": "norm"}, "transform": [{"filter": "datum.e=='R'"}], "mark": {"type": "line", "interpolate": "linear-closed", "stroke": "#111111", "strokeWidth": 2.3, "strokeJoin": "round"}, "encoding": {"order": {"field": "i", "type": "quantitative"}}},
{"data": {"name": "pt"}, "transform": [{"filter": "datum.p=='A1R'"}], "mark": {"type": "line", "interpolate": "cardinal-closed", "tension": 0.4, "stroke": "#5b9bd5", "strokeWidth": 2.3, "strokeJoin": "round"}, "encoding": {"order": {"field": "i", "type": "quantitative"}}},
{"data": {"name": "tt"}, "transform": [{"filter": "datum.p=='A1R'"}], "mark": {"type": "text", "fontSize": 14, "fill": "#222222", "font": "Liberation Sans", "clip": true}, "encoding": {"text": {"field": "t"}}}
]}
]},
{"spacing": 0, "hconcat": [
{"width": 350, "height": 276,
"encoding": {"x": {"field": "x", "type": "quantitative", "scale": {"domain": [-103.39, 94.35], "nice": false, "zero": false}, "axis": null}, "y": {"field": "y", "type": "quantitative", "scale": {"domain": [-80.226, 75.706], "nice": false, "zero": false}, "axis": null}},
"layer": [
{"data": {"name": "band"}, "transform": [{"filter": "datum.e=='L' && datum.k=='o'"}], "mark": {"type": "line", "interpolate": "cardinal-closed", "fill": "#c6c6c6", "stroke": "#c6c6c6", "strokeWidth": 8, "strokeOpacity": 0.55, "strokeJoin": "round"}, "encoding": {"order": {"field": "i", "type": "quantitative"}}},
{"data": {"name": "band"}, "transform": [{"filter": "datum.e=='L' && datum.k=='n'"}], "mark": {"type": "line", "interpolate": "cardinal-closed", "fill": "#ffffff", "stroke": "#ffffff", "strokeWidth": 8, "strokeOpacity": 0.55, "strokeJoin": "round"}, "encoding": {"order": {"field": "i", "type": "quantitative"}}},
{"data": {"name": "circ"}, "transform": [{"filter": "datum.e=='B' || datum.e=='L'"}], "mark": {"type": "arc", "filled": false}, "encoding": {"theta": {"field": "t1", "type": "quantitative", "stack": null, "scale": {"domain": [0, 360], "range": [0, 6.283185307179586]}}, "theta2": {"field": "t2"}, "radius": {"field": "r", "type": "quantitative", "scale": {"type": "linear", "domain": [0, 90], "range": [0, 159.3], "zero": true, "nice": false}}, "radius2": {"field": "r"}, "stroke": {"condition": {"test": "datum.w=='d'", "value": "#2a2a2a"}, "value": "#8c8c8c"}, "strokeWidth": {"condition": {"test": "datum.w=='d'", "value": 0.9}, "value": 0.6}}},
{"data": {"name": "spk"}, "transform": [{"filter": "datum.e=='B' || datum.e=='L'"}], "mark": {"type": "rule", "stroke": "#8c8c8c", "strokeWidth": 0.6}, "encoding": {"x2": {"field": "x2"}, "y2": {"field": "y2"}}},
{"data": {"name": "tl"}, "mark": {"type": "text", "fontSize": 4, "fill": "#555555", "font": "Liberation Sans", "clip": true}, "encoding": {"text": {"field": "t"}}},
{"data": {"name": "al"}, "transform": [{"filter": "datum.e=='B' || datum.e=='L'"}], "mark": {"type": "text", "fontSize": 5.5, "fill": "#333333", "font": "Liberation Sans", "clip": true}, "encoding": {"text": {"field": "t"}}},
{"data": {"name": "norm"}, "transform": [{"filter": "datum.e=='L'"}], "mark": {"type": "line", "interpolate": "linear-closed", "stroke": "#111111", "strokeWidth": 2.3, "strokeJoin": "round"}, "encoding": {"order": {"field": "i", "type": "quantitative"}}},
{"data": {"name": "pt"}, "transform": [{"filter": "datum.p=='A2L'"}], "mark": {"type": "line", "interpolate": "cardinal-closed", "tension": 0.4, "stroke": "#5b9bd5", "strokeWidth": 2.3, "strokeJoin": "round"}, "encoding": {"order": {"field": "i", "type": "quantitative"}}}
]},
{"width": 357, "height": 276,
"encoding": {"x": {"field": "x", "type": "quantitative", "scale": {"domain": [-109.04, 92.655], "nice": false, "zero": false}, "axis": null}, "y": {"field": "y", "type": "quantitative", "scale": {"domain": [-80.226, 75.706], "nice": false, "zero": false}, "axis": null}},
"layer": [
{"data": {"name": "band"}, "transform": [{"filter": "datum.e=='R' && datum.k=='o'"}], "mark": {"type": "line", "interpolate": "cardinal-closed", "fill": "#c6c6c6", "stroke": "#c6c6c6", "strokeWidth": 8, "strokeOpacity": 0.55, "strokeJoin": "round"}, "encoding": {"order": {"field": "i", "type": "quantitative"}}},
{"data": {"name": "band"}, "transform": [{"filter": "datum.e=='R' && datum.k=='n'"}], "mark": {"type": "line", "interpolate": "cardinal-closed", "fill": "#ffffff", "stroke": "#ffffff", "strokeWidth": 8, "strokeOpacity": 0.55, "strokeJoin": "round"}, "encoding": {"order": {"field": "i", "type": "quantitative"}}},
{"data": {"name": "circ"}, "transform": [{"filter": "datum.e=='B' || datum.e=='R'"}], "mark": {"type": "arc", "filled": false}, "encoding": {"theta": {"field": "t1", "type": "quantitative", "stack": null, "scale": {"domain": [0, 360], "range": [0, 6.283185307179586]}}, "theta2": {"field": "t2"}, "radius": {"field": "r", "type": "quantitative", "scale": {"type": "linear", "domain": [0, 90], "range": [0, 159.3], "zero": true, "nice": false}}, "radius2": {"field": "r"}, "stroke": {"condition": {"test": "datum.w=='d'", "value": "#2a2a2a"}, "value": "#8c8c8c"}, "strokeWidth": {"condition": {"test": "datum.w=='d'", "value": 0.9}, "value": 0.6}}},
{"data": {"name": "spk"}, "transform": [{"filter": "datum.e=='B' || datum.e=='R'"}], "mark": {"type": "rule", "stroke": "#8c8c8c", "strokeWidth": 0.6}, "encoding": {"x2": {"field": "x2"}, "y2": {"field": "y2"}}},
{"data": {"name": "tl"}, "mark": {"type": "text", "fontSize": 4, "fill": "#555555", "font": "Liberation Sans", "clip": true}, "encoding": {"text": {"field": "t"}}},
{"data": {"name": "al"}, "transform": [{"filter": "datum.e=='B' || datum.e=='R'"}], "mark": {"type": "text", "fontSize": 5.5, "fill": "#333333", "font": "Liberation Sans", "clip": true}, "encoding": {"text": {"field": "t"}}},
{"data": {"name": "norm"}, "transform": [{"filter": "datum.e=='R'"}], "mark": {"type": "line", "interpolate": "linear-closed", "stroke": "#111111", "strokeWidth": 2.3, "strokeJoin": "round"}, "encoding": {"order": {"field": "i", "type": "quantitative"}}},
{"data": {"name": "pt"}, "transform": [{"filter": "datum.p=='A2R'"}], "mark": {"type": "line", "interpolate": "cardinal-closed", "tension": 0.4, "stroke": "#5b9bd5", "strokeWidth": 2.3, "strokeJoin": "round"}, "encoding": {"order": {"field": "i", "type": "quantitative"}}},
{"data": {"name": "tt"}, "transform": [{"filter": "datum.p=='A2R'"}], "mark": {"type": "text", "fontSize": 14, "fill": "#222222", "font": "Liberation Sans", "clip": true}, "encoding": {"text": {"field": "t"}}}
]}
]},
{"spacing": 0, "hconcat": [
{"width": 350, "height": 276,
"encoding": {"x": {"field": "x", "type": "quantitative", "scale": {"domain": [-103.39, 94.35], "nice": false, "zero": false}, "axis": null}, "y": {"field": "y", "type": "quantitative", "scale": {"domain": [-80.226, 75.706], "nice": false, "zero": false}, "axis": null}},
"layer": [
{"data": {"name": "band"}, "transform": [{"filter": "datum.e=='L' && datum.k=='o'"}], "mark": {"type": "line", "interpolate": "cardinal-closed", "fill": "#c6c6c6", "stroke": "#c6c6c6", "strokeWidth": 8, "strokeOpacity": 0.55, "strokeJoin": "round"}, "encoding": {"order": {"field": "i", "type": "quantitative"}}},
{"data": {"name": "band"}, "transform": [{"filter": "datum.e=='L' && datum.k=='n'"}], "mark": {"type": "line", "interpolate": "cardinal-closed", "fill": "#ffffff", "stroke": "#ffffff", "strokeWidth": 8, "strokeOpacity": 0.55, "strokeJoin": "round"}, "encoding": {"order": {"field": "i", "type": "quantitative"}}},
{"data": {"name": "circ"}, "transform": [{"filter": "datum.e=='B' || datum.e=='L'"}], "mark": {"type": "arc", "filled": false}, "encoding": {"theta": {"field": "t1", "type": "quantitative", "stack": null, "scale": {"domain": [0, 360], "range": [0, 6.283185307179586]}}, "theta2": {"field": "t2"}, "radius": {"field": "r", "type": "quantitative", "scale": {"type": "linear", "domain": [0, 90], "range": [0, 159.3], "zero": true, "nice": false}}, "radius2": {"field": "r"}, "stroke": {"condition": {"test": "datum.w=='d'", "value": "#2a2a2a"}, "value": "#8c8c8c"}, "strokeWidth": {"condition": {"test": "datum.w=='d'", "value": 0.9}, "value": 0.6}}},
{"data": {"name": "spk"}, "transform": [{"filter": "datum.e=='B' || datum.e=='L'"}], "mark": {"type": "rule", "stroke": "#8c8c8c", "strokeWidth": 0.6}, "encoding": {"x2": {"field": "x2"}, "y2": {"field": "y2"}}},
{"data": {"name": "tl"}, "mark": {"type": "text", "fontSize": 4, "fill": "#555555", "font": "Liberation Sans", "clip": true}, "encoding": {"text": {"field": "t"}}},
{"data": {"name": "al"}, "transform": [{"filter": "datum.e=='B' || datum.e=='L'"}], "mark": {"type": "text", "fontSize": 5.5, "fill": "#333333", "font": "Liberation Sans", "clip": true}, "encoding": {"text": {"field": "t"}}},
{"data": {"name": "norm"}, "transform": [{"filter": "datum.e=='L'"}], "mark": {"type": "line", "interpolate": "linear-closed", "stroke": "#111111", "strokeWidth": 2.3, "strokeJoin": "round"}, "encoding": {"order": {"field": "i", "type": "quantitative"}}},
{"data": {"name": "pt"}, "transform": [{"filter": "datum.p=='A3L'"}], "mark": {"type": "line", "interpolate": "cardinal-closed", "tension": 0.4, "stroke": "#5b9bd5", "strokeWidth": 2.3, "strokeJoin": "round"}, "encoding": {"order": {"field": "i", "type": "quantitative"}}}
]},
{"width": 357, "height": 276,
"encoding": {"x": {"field": "x", "type": "quantitative", "scale": {"domain": [-109.04, 92.655], "nice": false, "zero": false}, "axis": null}, "y": {"field": "y", "type": "quantitative", "scale": {"domain": [-80.226, 75.706], "nice": false, "zero": false}, "axis": null}},
"layer": [
{"data": {"name": "band"}, "transform": [{"filter": "datum.e=='R' && datum.k=='o'"}], "mark": {"type": "line", "interpolate": "cardinal-closed", "fill": "#c6c6c6", "stroke": "#c6c6c6", "strokeWidth": 8, "strokeOpacity": 0.55, "strokeJoin": "round"}, "encoding": {"order": {"field": "i", "type": "quantitative"}}},
{"data": {"name": "band"}, "transform": [{"filter": "datum.e=='R' && datum.k=='n'"}], "mark": {"type": "line", "interpolate": "cardinal-closed", "fill": "#ffffff", "stroke": "#ffffff", "strokeWidth": 8, "strokeOpacity": 0.55, "strokeJoin": "round"}, "encoding": {"order": {"field": "i", "type": "quantitative"}}},
{"data": {"name": "circ"}, "transform": [{"filter": "datum.e=='B' || datum.e=='R'"}], "mark": {"type": "arc", "filled": false}, "encoding": {"theta": {"field": "t1", "type": "quantitative", "stack": null, "scale": {"domain": [0, 360], "range": [0, 6.283185307179586]}}, "theta2": {"field": "t2"}, "radius": {"field": "r", "type": "quantitative", "scale": {"type": "linear", "domain": [0, 90], "range": [0, 159.3], "zero": true, "nice": false}}, "radius2": {"field": "r"}, "stroke": {"condition": {"test": "datum.w=='d'", "value": "#2a2a2a"}, "value": "#8c8c8c"}, "strokeWidth": {"condition": {"test": "datum.w=='d'", "value": 0.9}, "value": 0.6}}},
{"data": {"name": "spk"}, "transform": [{"filter": "datum.e=='B' || datum.e=='R'"}], "mark": {"type": "rule", "stroke": "#8c8c8c", "strokeWidth": 0.6}, "encoding": {"x2": {"field": "x2"}, "y2": {"field": "y2"}}},
{"data": {"name": "tl"}, "mark": {"type": "text", "fontSize": 4, "fill": "#555555", "font": "Liberation Sans", "clip": true}, "encoding": {"text": {"field": "t"}}},
{"data": {"name": "al"}, "transform": [{"filter": "datum.e=='B' || datum.e=='R'"}], "mark": {"type": "text", "fontSize": 5.5, "fill": "#333333", "font": "Liberation Sans", "clip": true}, "encoding": {"text": {"field": "t"}}},
{"data": {"name": "norm"}, "transform": [{"filter": "datum.e=='R'"}], "mark": {"type": "line", "interpolate": "linear-closed", "stroke": "#111111", "strokeWidth": 2.3, "strokeJoin": "round"}, "encoding": {"order": {"field": "i", "type": "quantitative"}}},
{"data": {"name": "pt"}, "transform": [{"filter": "datum.p=='A3R'"}], "mark": {"type": "line", "interpolate": "cardinal-closed", "tension": 0.4, "stroke": "#5b9bd5", "strokeWidth": 2.3, "strokeJoin": "round"}, "encoding": {"order": {"field": "i", "type": "quantitative"}}},
{"data": {"name": "tt"}, "transform": [{"filter": "datum.p=='A3R'"}], "mark": {"type": "text", "fontSize": 14, "fill": "#222222", "font": "Liberation Sans", "clip": true}, "encoding": {"text": {"field": "t"}}}
]}
]},
{"spacing": 0, "hconcat": [
{"width": 350, "height": 276,
"encoding": {"x": {"field": "x", "type": "quantitative", "scale": {"domain": [-103.39, 94.35], "nice": false, "zero": false}, "axis": null}, "y": {"field": "y", "type": "quantitative", "scale": {"domain": [-80.226, 75.706], "nice": false, "zero": false}, "axis": null}},
"layer": [
{"data": {"name": "band"}, "transform": [{"filter": "datum.e=='L' && datum.k=='o'"}], "mark": {"type": "line", "interpolate": "cardinal-closed", "fill": "#c6c6c6", "stroke": "#c6c6c6", "strokeWidth": 8, "strokeOpacity": 0.55, "strokeJoin": "round"}, "encoding": {"order": {"field": "i", "type": "quantitative"}}},
{"data": {"name": "band"}, "transform": [{"filter": "datum.e=='L' && datum.k=='n'"}], "mark": {"type": "line", "interpolate": "cardinal-closed", "fill": "#ffffff", "stroke": "#ffffff", "strokeWidth": 8, "strokeOpacity": 0.55, "strokeJoin": "round"}, "encoding": {"order": {"field": "i", "type": "quantitative"}}},
{"data": {"name": "circ"}, "transform": [{"filter": "datum.e=='B' || datum.e=='L'"}], "mark": {"type": "arc", "filled": false}, "encoding": {"theta": {"field": "t1", "type": "quantitative", "stack": null, "scale": {"domain": [0, 360], "range": [0, 6.283185307179586]}}, "theta2": {"field": "t2"}, "radius": {"field": "r", "type": "quantitative", "scale": {"type": "linear", "domain": [0, 90], "range": [0, 159.3], "zero": true, "nice": false}}, "radius2": {"field": "r"}, "stroke": {"condition": {"test": "datum.w=='d'", "value": "#2a2a2a"}, "value": "#8c8c8c"}, "strokeWidth": {"condition": {"test": "datum.w=='d'", "value": 0.9}, "value": 0.6}}},
{"data": {"name": "spk"}, "transform": [{"filter": "datum.e=='B' || datum.e=='L'"}], "mark": {"type": "rule", "stroke": "#8c8c8c", "strokeWidth": 0.6}, "encoding": {"x2": {"field": "x2"}, "y2": {"field": "y2"}}},
{"data": {"name": "tl"}, "mark": {"type": "text", "fontSize": 4, "fill": "#555555", "font": "Liberation Sans", "clip": true}, "encoding": {"text": {"field": "t"}}},
{"data": {"name": "al"}, "transform": [{"filter": "datum.e=='B' || datum.e=='L'"}], "mark": {"type": "text", "fontSize": 5.5, "fill": "#333333", "font": "Liberation Sans", "clip": true}, "encoding": {"text": {"field": "t"}}},
{"data": {"name": "norm"}, "transform": [{"filter": "datum.e=='L'"}], "mark": {"type": "line", "interpolate": "linear-closed", "stroke": "#111111", "strokeWidth": 2.3, "strokeJoin": "round"}, "encoding": {"order": {"field": "i", "type": "quantitative"}}},
{"data": {"name": "pt"}, "transform": [{"filter": "datum.p=='A4L'"}], "mark": {"type": "line", "interpolate": "cardinal-closed", "tension": 0.4, "stroke": "#5b9bd5", "strokeWidth": 2.3, "strokeJoin": "round"}, "encoding": {"order": {"field": "i", "type": "quantitative"}}}
]},
{"width": 357, "height": 276,
"encoding": {"x": {"field": "x", "type": "quantitative", "scale": {"domain": [-109.04, 92.655], "nice": false, "zero": false}, "axis": null}, "y": {"field": "y", "type": "quantitative", "scale": {"domain": [-80.226, 75.706], "nice": false, "zero": false}, "axis": null}},
"layer": [
{"data": {"name": "band"}, "transform": [{"filter": "datum.e=='R' && datum.k=='o'"}], "mark": {"type": "line", "interpolate": "cardinal-closed", "fill": "#c6c6c6", "stroke": "#c6c6c6", "strokeWidth": 8, "strokeOpacity": 0.55, "strokeJoin": "round"}, "encoding": {"order": {"field": "i", "type": "quantitative"}}},
{"data": {"name": "band"}, "transform": [{"filter": "datum.e=='R' && datum.k=='n'"}], "mark": {"type": "line", "interpolate": "cardinal-closed", "fill": "#ffffff", "stroke": "#ffffff", "strokeWidth": 8, "strokeOpacity": 0.55, "strokeJoin": "round"}, "encoding": {"order": {"field": "i", "type": "quantitative"}}},
{"data": {"name": "circ"}, "transform": [{"filter": "datum.e=='B' || datum.e=='R'"}], "mark": {"type": "arc", "filled": false}, "encoding": {"theta": {"field": "t1", "type": "quantitative", "stack": null, "scale": {"domain": [0, 360], "range": [0, 6.283185307179586]}}, "theta2": {"field": "t2"}, "radius": {"field": "r", "type": "quantitative", "scale": {"type": "linear", "domain": [0, 90], "range": [0, 159.3], "zero": true, "nice": false}}, "radius2": {"field": "r"}, "stroke": {"condition": {"test": "datum.w=='d'", "value": "#2a2a2a"}, "value": "#8c8c8c"}, "strokeWidth": {"condition": {"test": "datum.w=='d'", "value": 0.9}, "value": 0.6}}},
{"data": {"name": "spk"}, "transform": [{"filter": "datum.e=='B' || datum.e=='R'"}], "mark": {"type": "rule", "stroke": "#8c8c8c", "strokeWidth": 0.6}, "encoding": {"x2": {"field": "x2"}, "y2": {"field": "y2"}}},
{"data": {"name": "tl"}, "mark": {"type": "text", "fontSize": 4, "fill": "#555555", "font": "Liberation Sans", "clip": true}, "encoding": {"text": {"field": "t"}}},
{"data": {"name": "al"}, "transform": [{"filter": "datum.e=='B' || datum.e=='R'"}], "mark": {"type": "text", "fontSize": 5.5, "fill": "#333333", "font": "Liberation Sans", "clip": true}, "encoding": {"text": {"field": "t"}}},
{"data": {"name": "norm"}, "transform": [{"filter": "datum.e=='R'"}], "mark": {"type": "line", "interpolate": "linear-closed", "stroke": "#111111", "strokeWidth": 2.3, "strokeJoin": "round"}, "encoding": {"order": {"field": "i", "type": "quantitative"}}},
{"data": {"name": "pt"}, "transform": [{"filter": "datum.p=='A4R'"}], "mark": {"type": "line", "interpolate": "cardinal-closed", "tension": 0.4, "stroke": "#5b9bd5", "strokeWidth": 2.3, "strokeJoin": "round"}, "encoding": {"order": {"field": "i", "type": "quantitative"}}},
{"data": {"name": "tt"}, "transform": [{"filter": "datum.p=='A4R'"}], "mark": {"type": "text", "fontSize": 14, "fill": "#222222", "font": "Liberation Sans", "clip": true}, "encoding": {"text": {"field": "t"}}}
]}
]},
{"spacing": 0, "hconcat": [
{"width": 350, "height": 276,
"encoding": {"x": {"field": "x", "type": "quantitative", "scale": {"domain": [-103.39, 94.35], "nice": false, "zero": false}, "axis": null}, "y": {"field": "y", "type": "quantitative", "scale": {"domain": [-80.226, 75.706], "nice": false, "zero": false}, "axis": null}},
"layer": [
{"data": {"name": "band"}, "transform": [{"filter": "datum.e=='L' && datum.k=='o'"}], "mark": {"type": "line", "interpolate": "cardinal-closed", "fill": "#c6c6c6", "stroke": "#c6c6c6", "strokeWidth": 8, "strokeOpacity": 0.55, "strokeJoin": "round"}, "encoding": {"order": {"field": "i", "type": "quantitative"}}},
{"data": {"name": "band"}, "transform": [{"filter": "datum.e=='L' && datum.k=='n'"}], "mark": {"type": "line", "interpolate": "cardinal-closed", "fill": "#ffffff", "stroke": "#ffffff", "strokeWidth": 8, "strokeOpacity": 0.55, "strokeJoin": "round"}, "encoding": {"order": {"field": "i", "type": "quantitative"}}},
{"data": {"name": "circ"}, "transform": [{"filter": "datum.e=='B' || datum.e=='L'"}], "mark": {"type": "arc", "filled": false}, "encoding": {"theta": {"field": "t1", "type": "quantitative", "stack": null, "scale": {"domain": [0, 360], "range": [0, 6.283185307179586]}}, "theta2": {"field": "t2"}, "radius": {"field": "r", "type": "quantitative", "scale": {"type": "linear", "domain": [0, 90], "range": [0, 159.3], "zero": true, "nice": false}}, "radius2": {"field": "r"}, "stroke": {"condition": {"test": "datum.w=='d'", "value": "#2a2a2a"}, "value": "#8c8c8c"}, "strokeWidth": {"condition": {"test": "datum.w=='d'", "value": 0.9}, "value": 0.6}}},
{"data": {"name": "spk"}, "transform": [{"filter": "datum.e=='B' || datum.e=='L'"}], "mark": {"type": "rule", "stroke": "#8c8c8c", "strokeWidth": 0.6}, "encoding": {"x2": {"field": "x2"}, "y2": {"field": "y2"}}},
{"data": {"name": "tl"}, "mark": {"type": "text", "fontSize": 4, "fill": "#555555", "font": "Liberation Sans", "clip": true}, "encoding": {"text": {"field": "t"}}},
{"data": {"name": "al"}, "transform": [{"filter": "datum.e=='B' || datum.e=='L'"}], "mark": {"type": "text", "fontSize": 5.5, "fill": "#333333", "font": "Liberation Sans", "clip": true}, "encoding": {"text": {"field": "t"}}},
{"data": {"name": "norm"}, "transform": [{"filter": "datum.e=='L'"}], "mark": {"type": "line", "interpolate": "linear-closed", "stroke": "#111111", "strokeWidth": 2.3, "strokeJoin": "round"}, "encoding": {"order": {"field": "i", "type": "quantitative"}}},
{"data": {"name": "pt"}, "transform": [{"filter": "datum.p=='A5L'"}], "mark": {"type": "line", "interpolate": "cardinal-closed", "tension": 0.4, "stroke": "#5b9bd5", "strokeWidth": 2.3, "strokeJoin": "round"}, "encoding": {"order": {"field": "i", "type": "quantitative"}}}
]},
{"width": 357, "height": 276,
"encoding": {"x": {"field": "x", "type": "quantitative", "scale": {"domain": [-109.04, 92.655], "nice": false, "zero": false}, "axis": null}, "y": {"field": "y", "type": "quantitative", "scale": {"domain": [-80.226, 75.706], "nice": false, "zero": false}, "axis": null}},
"layer": [
{"data": {"name": "band"}, "transform": [{"filter": "datum.e=='R' && datum.k=='o'"}], "mark": {"type": "line", "interpolate": "cardinal-closed", "fill": "#c6c6c6", "stroke": "#c6c6c6", "strokeWidth": 8, "strokeOpacity": 0.55, "strokeJoin": "round"}, "encoding": {"order": {"field": "i", "type": "quantitative"}}},
{"data": {"name": "band"}, "transform": [{"filter": "datum.e=='R' && datum.k=='n'"}], "mark": {"type": "line", "interpolate": "cardinal-closed", "fill": "#ffffff", "stroke": "#ffffff", "strokeWidth": 8, "strokeOpacity": 0.55, "strokeJoin": "round"}, "encoding": {"order": {"field": "i", "type": "quantitative"}}},
{"data": {"name": "circ"}, "transform": [{"filter": "datum.e=='B' || datum.e=='R'"}], "mark": {"type": "arc", "filled": false}, "encoding": {"theta": {"field": "t1", "type": "quantitative", "stack": null, "scale": {"domain": [0, 360], "range": [0, 6.283185307179586]}}, "theta2": {"field": "t2"}, "radius": {"field": "r", "type": "quantitative", "scale": {"type": "linear", "domain": [0, 90], "range": [0, 159.3], "zero": true, "nice": false}}, "radius2": {"field": "r"}, "stroke": {"condition": {"test": "datum.w=='d'", "value": "#2a2a2a"}, "value": "#8c8c8c"}, "strokeWidth": {"condition": {"test": "datum.w=='d'", "value": 0.9}, "value": 0.6}}},
{"data": {"name": "spk"}, "transform": [{"filter": "datum.e=='B' || datum.e=='R'"}], "mark": {"type": "rule", "stroke": "#8c8c8c", "strokeWidth": 0.6}, "encoding": {"x2": {"field": "x2"}, "y2": {"field": "y2"}}},
{"data": {"name": "tl"}, "mark": {"type": "text", "fontSize": 4, "fill": "#555555", "font": "Liberation Sans", "clip": true}, "encoding": {"text": {"field": "t"}}},
{"data": {"name": "al"}, "transform": [{"filter": "datum.e=='B' || datum.e=='R'"}], "mark": {"type": "text", "fontSize": 5.5, "fill": "#333333", "font": "Liberation Sans", "clip": true}, "encoding": {"text": {"field": "t"}}},
{"data": {"name": "norm"}, "transform": [{"filter": "datum.e=='R'"}], "mark": {"type": "line", "interpolate": "linear-closed", "stroke": "#111111", "strokeWidth": 2.3, "strokeJoin": "round"}, "encoding": {"order": {"field": "i", "type": "quantitative"}}},
{"data": {"name": "pt"}, "transform": [{"filter": "datum.p=='A5R'"}], "mark": {"type": "line", "interpolate": "cardinal-closed", "tension": 0.4, "stroke": "#5b9bd5", "strokeWidth": 2.3, "strokeJoin": "round"}, "encoding": {"order": {"field": "i", "type": "quantitative"}}},
{"data": {"name": "tt"}, "transform": [{"filter": "datum.p=='A5R'"}], "mark": {"type": "text", "fontSize": 14, "fill": "#222222", "font": "Liberation Sans", "clip": true}, "encoding": {"text": {"field": "t"}}}
]}
]}
]
}
